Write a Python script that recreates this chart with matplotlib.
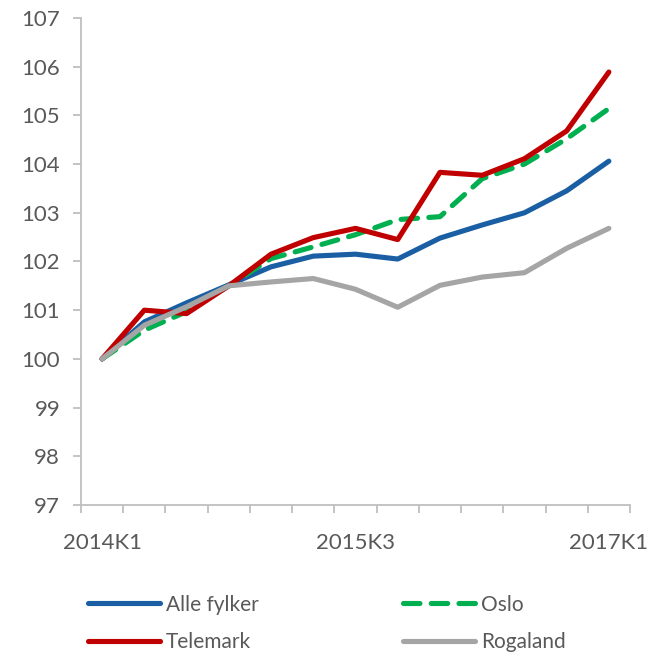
import numpy as np
from matplotlib import pyplot as plt

quarters = ['2014K1', '2014K2', '2014K3', '2014K4', '2015K1', '2015K2', '2015K3',
            '2015K4', '2016K1', '2016K2', '2016K3', '2016K4', '2017K1']
alle_fylker = [100, 100.76, 101.15, 101.52, 101.89, 102.11, 102.15,
               102.05, 102.48, 102.75, 103.0, 103.45, 104.06]
oslo = [100, 100.59, 100.97, 101.5, 102.06, 102.3, 102.55,
        102.86, 102.92, 103.7, 104.0, 104.52, 105.14]
telemark = [100, 101.0, 100.93, 101.5, 102.15, 102.49, 102.68,
            102.45, 103.83, 103.77, 104.11, 104.68, 105.89]
rogaland = [100, 100.69, 101.07, 101.5, 101.58, 101.65, 101.43,
            101.06, 101.51, 101.68, 101.77, 102.27, 102.68]
shown_labels = ['2014K1', '2015K3', '2017K1']

plt.rcParams['font.family'] = ['Lato', 'DejaVu Sans']
txt = '#595959'
axc = '#BFBFBF'

fig = plt.figure(figsize=(6.49, 6.56), dpi=100)
ax = fig.add_axes([0.1248, 0.2302, 0.8459, 0.7424])

x = np.arange(len(quarters))
lw = 3.7
l1, = ax.plot(x, alle_fylker, color='#1A5FA3', lw=lw, solid_capstyle='round',
              solid_joinstyle='round', label='Alle fylker')
l2, = ax.plot(x, oslo, color='#00B050', lw=lw, dashes=(3.2, 2.2),
              dash_capstyle='round', label='Oslo')
l3, = ax.plot(x, telemark, color='#C00000', lw=lw, solid_capstyle='round',
              solid_joinstyle='round', label='Telemark')
l4, = ax.plot(x, rogaland, color='#A5A5A5', lw=lw, solid_capstyle='round',
              solid_joinstyle='round', label='Rogaland')

ax.set_xlim(-0.5, len(quarters) - 0.5)
ax.set_ylim(97, 107)
ax.set_yticks(np.arange(97, 108))
ax.set_xticks(np.arange(len(quarters) + 1) - 0.5)
ax.set_xticklabels([])
ax.set_xticks([quarters.index(q) for q in shown_labels], minor=True)
ax.set_xticklabels(shown_labels, minor=True)

for s in ['top', 'right']:
    ax.spines[s].set_visible(False)
for s in ['left', 'bottom']:
    ax.spines[s].set_color(axc)
    ax.spines[s].set_linewidth(1.3)
ax.tick_params(axis='both', which='major', color=axc, width=1.3, length=6,
               labelsize=16, labelcolor=txt)
ax.tick_params(axis='y', pad=9)
ax.tick_params(axis='x', which='minor', length=0, pad=20, labelsize=16,
               labelcolor=txt)

# legend is filled column by column, so order handles to read row-wise
fig.legend([l1, l3, l2, l4], ['Alle fylker', 'Telemark', 'Oslo', 'Rogaland'],
           loc='center left', bbox_to_anchor=(0.1356, 0.0495), ncol=2,
           frameon=False, fontsize=15, labelcolor=txt, handlelength=3.45,
           handletextpad=0.3, columnspacing=6.9, labelspacing=0.85,
           borderpad=0, borderaxespad=0)

fig.savefig('out.png', dpi=100)
